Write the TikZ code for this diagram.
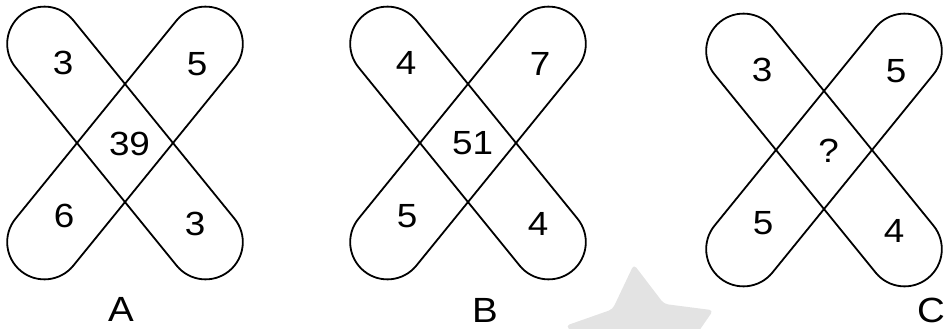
\documentclass[tikz,border=0pt]{standalone}
\usepackage{fontspec}
\setmainfont{Liberation Sans}[FakeStretch=1.1]
\begin{document}
\begin{tikzpicture}[x=1pt,y=-1pt,line width=1.8pt,
 line cap=round,line join=round,font=\fontsize{33.5}{38}\selectfont,
 num/.style={inner sep=0pt},
 band/.style={rounded corners=37.25pt}]
\useasboundingbox (0,0) rectangle (945,329);
\begin{scope}[shift={(642,342)}]
\fill[black!11,rounded corners=4pt] (-96:78)--(-60:44)--(-24:78)--(12:44)--(48:78)
 --(84:44)--(120:78)--(156:44)--(192:78)--(228:44)--cycle;
\end{scope}
\foreach \k/\cx/\cy/\tl/\tr/\md/\bl/\br in
 {A/125/143/3/5/39/6/3,B/468/143/4/7/51/5/4,C/824/150/3/5/?/5/4}{
\begin{scope}[shift={(\cx,\cy)}]
\coordinate (\k-O) at (0,0);
\draw[band,rotate=-50.9] (-165,-37.25) rectangle (165,37.25);
\draw[band,rotate=50.9] (-165,-37.25) rectangle (165,37.25);
\node[num] (\k-tl) at (-62,-80) {\tl};
\node[num] (\k-tr) at (72,-79) {\tr};
\node[num] (\k-md) at (4.5,0.5) {\md};
\node[num] (\k-bl) at (-61,73) {\bl};
\node[num] (\k-br) at (70,81) {\br};
\end{scope}
}
\node[num,font=\fontsize{35}{40}\selectfont] (lab-A) at (121,309) {A};
\node[num,font=\fontsize{35}{40}\selectfont] (lab-B) at (485,310) {B};
\node[num,font=\fontsize{35}{40}\selectfont] (lab-C) at (931,310) {C};
\end{tikzpicture}
\end{document}
